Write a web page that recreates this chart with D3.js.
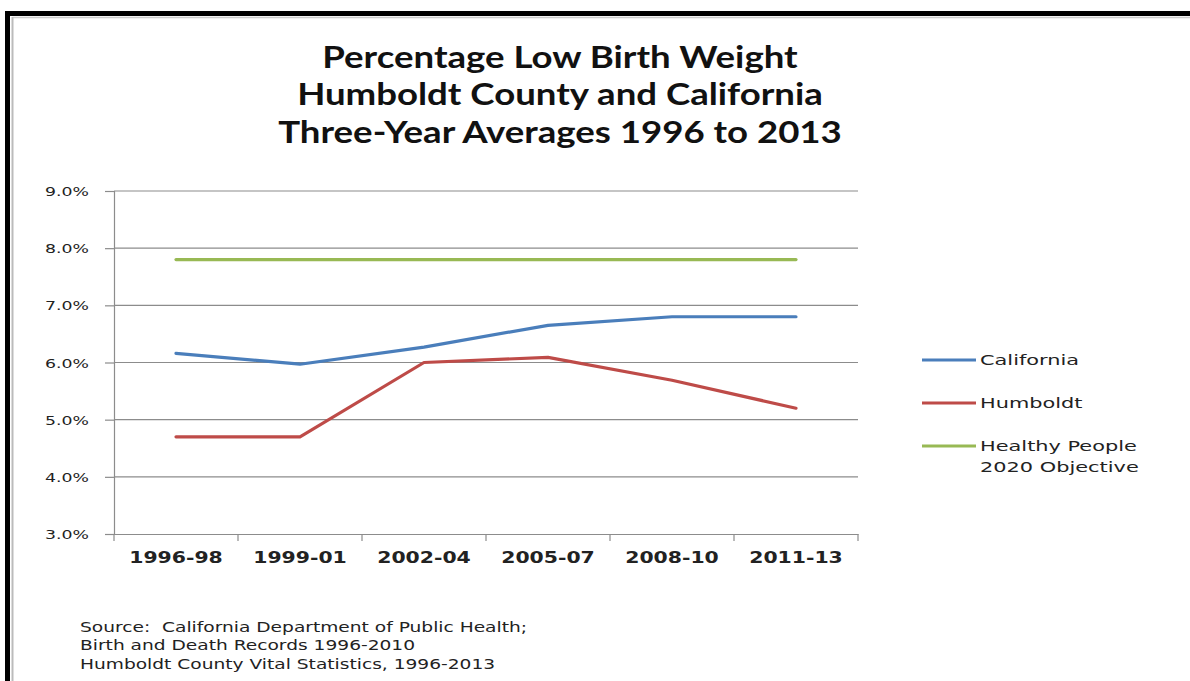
<!DOCTYPE html>
<html><head><meta charset="utf-8">
<script src="https://cdn.jsdelivr.net/npm/d3@7"></script>
<style>
body{margin:0;background:#fff;}
svg{display:block;}
</style></head>
<body>
<svg id="c" width="1190" height="681"></svg>
<script>
const categories = ["1996-98","1999-01","2002-04","2005-07","2008-10","2011-13"];
const california = [6.16, 5.97, 6.27, 6.65, 6.80, 6.80];
const humboldt = [4.70, 4.70, 6.00, 6.09, 5.69, 5.20];
const healthyPeople = [7.8, 7.8, 7.8, 7.8, 7.8, 7.8];
const yTicks = [3,4,5,6,7,8,9];
const titleLines = ["Percentage Low Birth Weight","Humboldt County and California","Three-Year Averages 1996 to 2013"];
const sourceLines = ["Source:  California Department of Public Health;","Birth and Death Records 1996-2010","Humboldt County Vital Statistics, 1996-2013"];
const series = [
  {name:["California"], values:california, color:"#4a7ebb"},
  {name:["Humboldt"], values:humboldt, color:"#be4b48"},
  {name:["Healthy People","2020 Objective"], values:healthyPeople, color:"#98b954"}
];

const svg = d3.select("#c");
svg.append("rect").attr("x",0).attr("y",0).attr("width",1190).attr("height",681).attr("fill","#fff");
svg.append("line").attr("x1",5).attr("x2",1190).attr("y1",13.5).attr("y2",13.5).attr("stroke","#000").attr("stroke-width",5);
svg.append("line").attr("x1",7.5).attr("x2",7.5).attr("y1",11).attr("y2",681).attr("stroke","#000").attr("stroke-width",5);
svg.append("line").attr("x1",12.5).attr("x2",1190).attr("y1",17.5).attr("y2",17.5).attr("stroke","#ccc").attr("stroke-width",1.5);
svg.append("line").attr("x1",12.5).attr("x2",12.5).attr("y1",17).attr("y2",681).attr("stroke","#bbb").attr("stroke-width",2);

const L = 114, R = 858, T = 191, B = 534;
const x = d3.scaleBand().domain(categories).range([L,R]);
const y = d3.scaleLinear().domain([3,9]).range([B,T]);
const GRID = "#8c8c8c";

// gridlines
svg.append("g").selectAll("line").data(yTicks.filter(d=>d>3)).join("line")
  .attr("x1",L).attr("x2",R).attr("y1",d=>y(d)).attr("y2",d=>y(d))
  .attr("stroke",GRID).attr("stroke-width",1.2);

// y axis
const ya = svg.append("g").attr("transform",`translate(${L},0)`)
  .call(d3.axisLeft(y).tickValues(yTicks).tickSize(9).tickFormat(d=>d3.format(".1f")(d)+"%"));
ya.select(".domain").attr("stroke",GRID).attr("stroke-width",1.2);
ya.selectAll(".tick line").attr("stroke",GRID).attr("stroke-width",1.2);
ya.selectAll(".tick text").attr("x",null).attr("dy","0.35em")
  .attr("transform","translate(-25,0) scale(1.33,1)")
  .attr("font-family","DejaVu Sans").attr("font-size",13).attr("fill","#222").attr("text-anchor","end");

// x axis
const xa = svg.append("g").attr("transform",`translate(0,${B})`)
  .call(d3.axisBottom(x).tickSize(0).tickPadding(0));
xa.select(".domain").attr("stroke",GRID).attr("stroke-width",1.2);
xa.selectAll(".tick text").attr("y",null).attr("dy","0.35em")
  .attr("transform","translate(0,24) scale(1.36,1)")
  .attr("font-family","DejaVu Sans").attr("font-weight","bold").attr("font-size",15).attr("fill","#222");
const bounds = categories.map(c=>x(c)).concat([R]);
svg.append("g").selectAll("line").data(bounds).join("line")
  .attr("x1",d=>d).attr("x2",d=>d).attr("y1",B).attr("y2",B+7)
  .attr("stroke",GRID).attr("stroke-width",1.2);

// lines
const line = d3.line().x((d,i)=>x(categories[i])+x.bandwidth()/2).y(d=>y(d));
svg.append("g").selectAll("path").data(series).join("path")
  .attr("d",d=>line(d.values)).attr("fill","none").attr("stroke",d=>d.color)
  .attr("stroke-width",3.2).attr("stroke-linejoin","round").attr("stroke-linecap","round");

// title
svg.append("g").selectAll("text").data(titleLines).join("text")
  .attr("transform",(d,i)=>`translate(560,${57+i*37.5}) scale(1.2,1)`)
  .attr("dy","0.35em").attr("text-anchor","middle")
  .attr("font-family","Lato").attr("font-weight","bold").attr("font-size",30.5).attr("fill","#111")
  .text(d=>d);

// legend
const legY = [360, 403, 446];
const lg = svg.append("g").selectAll("g").data(series).join("g")
  .attr("transform",(d,i)=>`translate(922,${legY[i]})`);
lg.append("line").attr("x1",0).attr("x2",54).attr("y1",0).attr("y2",0)
  .attr("stroke",d=>d.color).attr("stroke-width",3.2);
lg.selectAll("text").data(d=>d.name).join("text")
  .attr("transform",(n,j)=>`translate(58,${j*21}) scale(1.44,1)`).attr("dy","0.35em")
  .attr("font-family","DejaVu Sans").attr("font-size",14.5).attr("fill","#222")
  .text(n=>n);

// source
svg.append("g").selectAll("text").data(sourceLines).join("text")
  .attr("transform",(d,i)=>`translate(80,${627+i*18.5}) scale(1.38,1)`).attr("dy","0.35em")
  .attr("xml:space","preserve")
  .attr("font-family","DejaVu Sans").attr("font-size",13.5).attr("fill","#222")
  .text(d=>d);
</script>
</body></html>
